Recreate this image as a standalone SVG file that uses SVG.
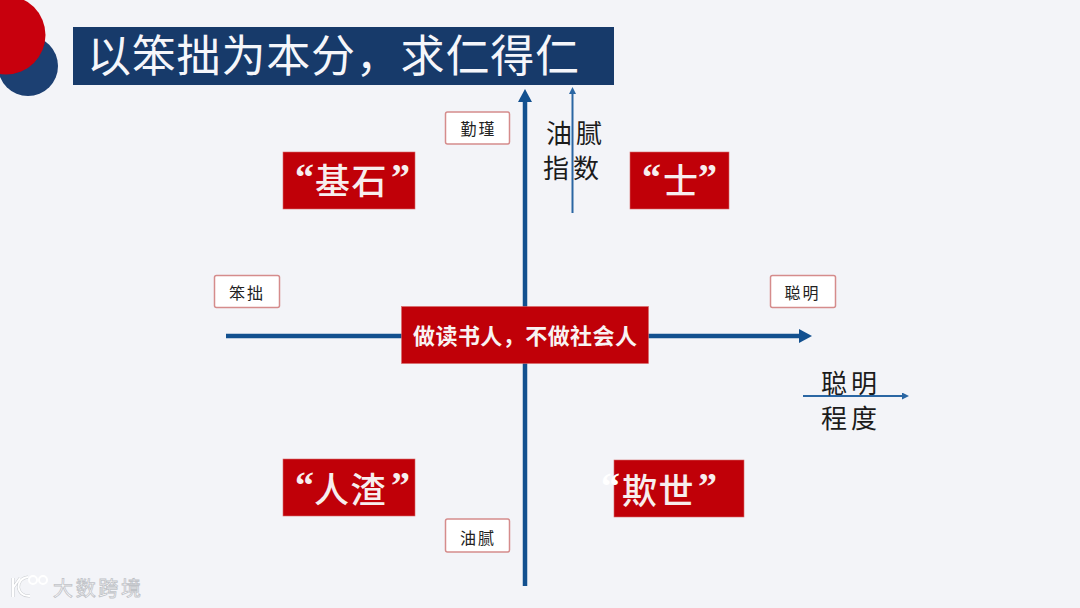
<svg xmlns="http://www.w3.org/2000/svg" width="1080" height="608" viewBox="0 0 1080 608">
<style>
.cjk{font-family:"Noto Sans CJK SC","Noto Sans CJK JP",sans-serif}
.tag{fill:#fff;stroke:#d58c8c;stroke-width:1.5}
.tagt{font-size:16px;fill:#222;text-anchor:middle;letter-spacing:2px;font-family:"Noto Sans CJK SC",sans-serif}
.red{fill:#c00008;stroke:#d86a6a;stroke-width:.6}
.big{font-size:35px;fill:#f7eeee;font-family:"Noto Sans CJK SC",sans-serif;font-weight:500;letter-spacing:1.500px}
.q{font-size:38px;fill:#f7eeee;font-family:"Liberation Serif",serif;font-weight:700}
.lab{font-size:26px;fill:#1b1b1b;font-family:"Noto Sans CJK SC",sans-serif;text-anchor:middle;letter-spacing:4px}
.ax{stroke:#12508f;stroke-width:4.5;fill:none}
.thin{stroke:#2a66a3;stroke-width:2;fill:none}
</style>
<defs>
<marker id="ah" markerUnits="userSpaceOnUse" markerWidth="14" markerHeight="14" refX="1" refY="7" orient="auto"><path d="M0 0L13 7L0 14Z" fill="#12508f"/></marker>
<marker id="as" markerUnits="userSpaceOnUse" markerWidth="7" markerHeight="7" refX="1" refY="3.500" orient="auto"><path d="M0 0L7 3.500L0 7Z" fill="#2a66a3"/></marker>
<filter id="soft" x="-20%" y="-20%" width="140%" height="140%"><feGaussianBlur stdDeviation="0.6"/></filter>
</defs>
<rect width="1080" height="608" fill="#f3f4f8"/>
<g id="logo-circles" filter="url(#soft)">
<circle cx="28" cy="66" r="30" fill="#1c3f72"/>
<circle cx="6" cy="35" r="39.500" fill="#c8000d"/>
</g>
<g id="title">
<rect x="73" y="27" width="541" height="58" fill="#173a6a"/>
<text x="87" y="72" class="cjk" font-size="44" fill="#f5f6fa" textLength="492" lengthAdjust="spacing">以笨拙为本分，求仁得仁</text>
</g>
<g id="connectors">
<path class="ax" d="M525 586V101" marker-end="url(#ah)"/>
<path class="ax" d="M226 336H800" marker-end="url(#ah)"/>
<path class="thin" d="M572.500 213V93" marker-end="url(#as)"/>
<path class="thin" d="M803 396H903" marker-end="url(#as)"/>
</g>
<g id="tag-qinjin"><rect class="tag" x="445.500" y="112" width="64" height="32" rx="2"/><text class="tagt" x="478.500" y="135">勤瑾</text></g>
<g id="tag-benzhuo"><rect class="tag" x="214.500" y="275.500" width="65" height="32" rx="2"/><text class="tagt" x="247" y="299">笨拙</text></g>
<g id="tag-congming"><rect class="tag" x="770.500" y="275.500" width="65" height="32" rx="2"/><text class="tagt" x="802.500" y="299">聪明</text></g>
<g id="tag-youni"><rect class="tag" x="445.500" y="519" width="64" height="33" rx="2"/><text class="tagt" x="478" y="544">油腻</text></g>
<g id="label-youni"><text class="lab" x="576" y="143">油腻</text><text class="lab" x="573" y="178">指数</text></g>
<g id="label-congming"><text class="lab" x="851" y="393">聪明</text><text class="lab" x="851" y="428">程度</text></g>
<g id="node-jishi"><rect class="red" x="283" y="152" width="132" height="57"/><text x="295" y="194"><tspan class="q" dy="-4">“</tspan><tspan class="big" x="315" dy="4">基石</tspan><tspan class="q" x="391" dy="-4">”</tspan></text></g>
<g id="node-shi"><rect class="red" x="630" y="152" width="99" height="57"/><text x="642" y="194"><tspan class="q" dy="-4">“</tspan><tspan class="big" x="663" dy="4">士</tspan><tspan class="q" x="698" dy="-4">”</tspan></text></g>
<g id="node-renzha"><rect class="red" x="283" y="459" width="132" height="57"/><text x="295" y="503"><tspan class="q" dy="-5">“</tspan><tspan class="big" x="314" dy="5">人渣</tspan><tspan class="q" x="391" dy="-5">”</tspan></text></g>
<g id="node-qishi"><rect class="red" x="614" y="460" width="130" height="57"/><text x="601" y="504"><tspan class="q" dy="-5" style="fill:#fff">“</tspan><tspan class="big" x="622" dy="5">欺世</tspan><tspan class="q" x="698" dy="-5">”</tspan></text></g>
<g id="node-center"><rect class="red" x="401.500" y="306.500" width="247" height="57"/><text class="cjk" x="413" y="344" font-size="22" font-weight="700" fill="#f8f2f2" textLength="224">做读书人，不做社会人</text></g>
<g id="watermark" fill="none" stroke="#fff" stroke-width="2">
<path d="M13 578V597M13 588L20 578M28 577C15 578 15 597 30 596" stroke="#c9ccd0" stroke-width="3"/><path d="M13 578V597M13 588L20 578M28 577C15 578 15 597 30 596"/><circle cx="33" cy="580" r="4"/><circle cx="43" cy="580" r="4"/>
<text x="53" y="596" class="cjk" font-size="20" fill="#fff" stroke="#bfc2c7" stroke-width=".8" textLength="88">大数跨境</text>
</g>
</svg>
